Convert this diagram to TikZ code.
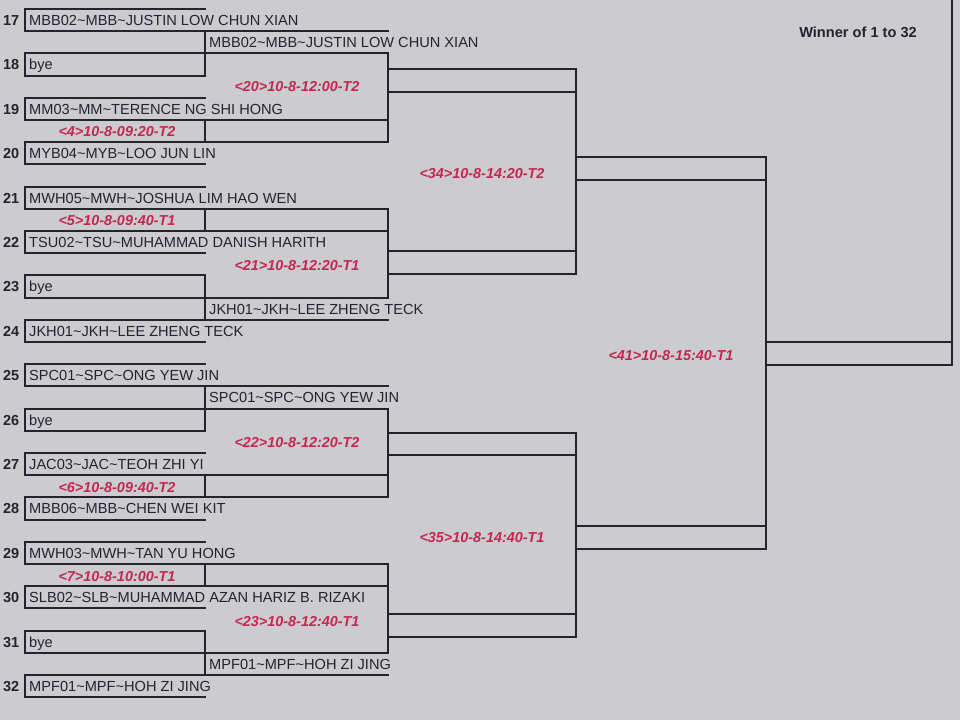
\documentclass[tikz,border=0pt]{standalone}
\usepackage{fontspec}
\setmainfont{Liberation Sans}
\definecolor{bg}{RGB}{203,203,208}
\definecolor{ink}{RGB}{36,36,44}
\definecolor{lbl}{RGB}{196,40,80}
\newcommand\tld{\textasciitilde}
% y of grid row boundary #2 for a column whose vertical scale is #1
\def\R#1#2{{round(353+(9+22.2*(#2)-353)*#1)}}
\begin{document}
\begin{tikzpicture}[x=1pt,y=-1pt,
  bk/.style={draw=ink,line width=2pt,line cap=rect},
  nametxt/.style={anchor=base west,inner sep=0pt,text=ink,font=\fontsize{14.6}{17}\selectfont},
  numtxt/.style={anchor=base east,inner sep=0pt,text=ink,font=\fontsize{14.5}{17}\selectfont\bfseries},
  matchtxt/.style={anchor=base,inner sep=0pt,text=lbl,font=\fontsize{14.4}{17}\selectfont\bfseries\itshape},
  headtxt/.style={anchor=base,inner sep=0pt,text=ink,font=\fontsize{14.6}{17}\selectfont\bfseries}]
\fill[bg] (0,0) rectangle (960,720);
\useasboundingbox (0,0) rectangle (960,720);
% round 1 boxes
\foreach \i in {0,...,15}{
  \draw[bk] (205,\R{1}{2*\i}) -- (25,\R{1}{2*\i}) -- (25,\R{1}{2*\i+1}) -- (205,\R{1}{2*\i+1});
}
% round 2 boxes
\foreach \p in {0,...,7}{
  \draw[bk] (205,\R{1}{4*\p+1}) -- (388,\R{1}{4*\p+1});
  \draw[bk] (205,\R{1}{4*\p+2}) -- (388,\R{1}{4*\p+2});
}
\foreach \a/\b in {1/3,5/6,9/10,12/14,17/19,21/22,25/26,28/30}{
  \draw[bk] (205,\R{1}{\a}) -- (205,\R{1}{\b});
}
\foreach \a/\b in {2/6,9/13,18/22,25/29}{
  \draw[bk] (388,\R{1}{\a}) -- (388,\R{1}{\b});
}
% round 3 boxes
\foreach \g in {0,...,3}{
  \draw[bk] (388,\R{1.022}{8*\g+3}) -- (576,\R{1.022}{8*\g+3});
  \draw[bk] (388,\R{1.022}{8*\g+4}) -- (576,\R{1.022}{8*\g+4});
}
\foreach \a/\b in {3/12,19/28}{
  \draw[bk] (576,\R{1.022}{\a}) -- (576,\R{1.022}{\b});
}
% round 4 boxes
\foreach \r in {7,23}{
  \draw[bk] (576,\R{1.038}{\r}) -- (766,\R{1.038}{\r});
  \draw[bk] (576,\R{1.038}{\r+1}) -- (766,\R{1.038}{\r+1});
}
\draw[bk] (766,\R{1.038}{7}) -- (766,\R{1.038}{24});
% final box
\draw[bk] (766,342) -- (952,342);
\draw[bk] (766,365) -- (952,365);
\draw[bk] (952,-3) -- (952,365);
% players
\foreach \i/\n/\t in {0/17/MBB02\tld MBB\tld JUSTIN LOW CHUN XIAN,
  1/18/bye,
  2/19/MM03\tld MM\tld TERENCE NG SHI HONG,
  3/20/MYB04\tld MYB\tld LOO JUN LIN,
  4/21/MWH05\tld MWH\tld JOSHUA LIM HAO WEN,
  5/22/TSU02\tld TSU\tld MUHAMMAD DANISH HARITH,
  6/23/bye,
  7/24/JKH01\tld JKH\tld LEE ZHENG TECK,
  8/25/SPC01\tld SPC\tld ONG YEW JIN,
  9/26/bye,
  10/27/JAC03\tld JAC\tld TEOH ZHI YI,
  11/28/MBB06\tld MBB\tld CHEN WEI KIT,
  12/29/MWH03\tld MWH\tld TAN YU HONG,
  13/30/SLB02\tld SLB\tld MUHAMMAD AZAN HARIZ B. RIZAKI,
  14/31/bye,
  15/32/MPF01\tld MPF\tld HOH ZI JING}{
  \node[numtxt] (num\n) at (19.5,{9+22.2*2*\i+16.5}) {\n};
  \node[nametxt] (p\n) at (29,{9+22.2*2*\i+16.5}) {\t};
}
% round 2 winners
\foreach \r/\k/\t in {1/a/MBB02\tld MBB\tld JUSTIN LOW CHUN XIAN,
  13/b/JKH01\tld JKH\tld LEE ZHENG TECK,
  17/c/SPC01\tld SPC\tld ONG YEW JIN,
  29/d/MPF01\tld MPF\tld HOH ZI JING}{
  \node[nametxt] (w\k) at (209,{9+22.2*\r+16.5}) {\t};
}
% match labels (x centre / y centre)
\foreach \x/\y/\k/\t in {117/131/m4/{<4>10-8-09:20-T2},
  117/220/m5/{<5>10-8-09:40-T1},
  117/487/m6/{<6>10-8-09:40-T2},
  117/576/m7/{<7>10-8-10:00-T1},
  297/86/m20/{<20>10-8-12:00-T2},
  297/265/m21/{<21>10-8-12:20-T1},
  297/442/m22/{<22>10-8-12:20-T2},
  297/621/m23/{<23>10-8-12:40-T1},
  482/173/m34/{<34>10-8-14:20-T2},
  482/537/m35/{<35>10-8-14:40-T1},
  671/355/m41/{<41>10-8-15:40-T1}}{
  \node[matchtxt] (\k) at (\x,\y+5.2) {\t};
}
\node[headtxt] (head) at (858,37) {Winner of 1 to 32};
\end{tikzpicture}
\end{document}
